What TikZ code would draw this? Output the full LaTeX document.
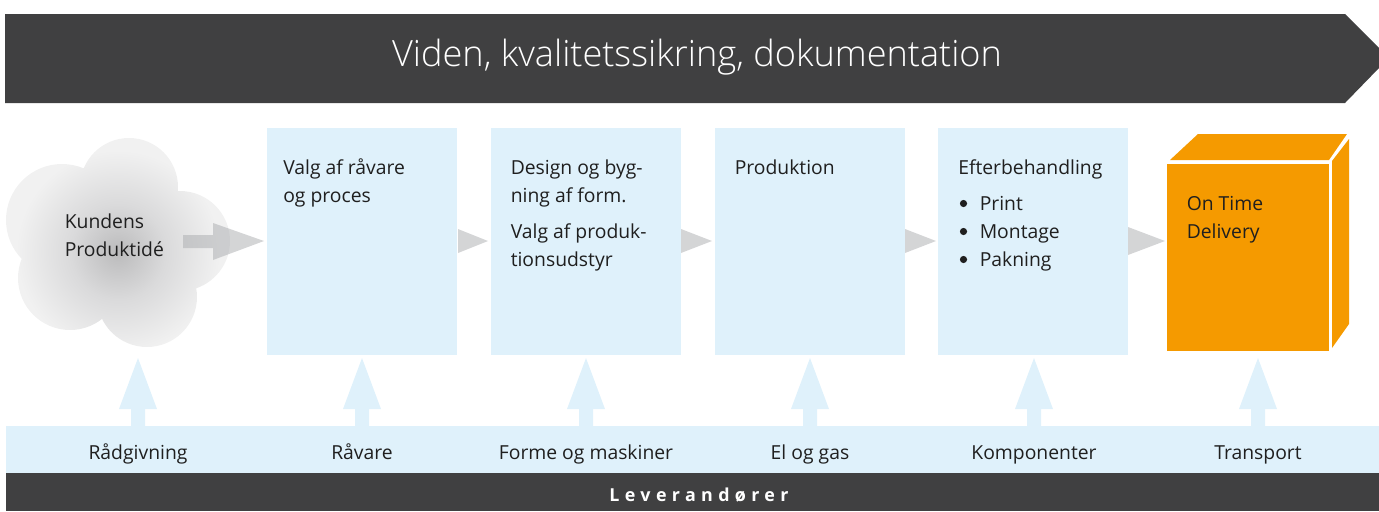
\documentclass[tikz,border=0pt]{standalone}
\usepackage{fontspec}
\setmainfont{Open Sans}
\newfontfamily\lightfont{Open Sans Light}
\definecolor{darkbar}{HTML}{404041}
\definecolor{paleblue}{HTML}{DFF1FB}
\definecolor{boxorange}{HTML}{F59A00}
\definecolor{arrowgray}{HTML}{A9ABAE}
\definecolor{cloudA}{HTML}{BBBBBC}
\definecolor{cloudB}{HTML}{DADADB}
\definecolor{cloudC}{HTML}{F1F1F1}
\pgfdeclareradialshading{cloudshade}{\pgfpoint{0bp}{0bp}}{%
 color(0bp)=(cloudA); color(7bp)=(cloudB); color(15bp)=(cloudC); color(50bp)=(cloudC)}
\tikzset{
 x=0.75pt,y=-0.75pt,
 panel/.style={fill=paleblue,draw=none,inner sep=0pt,anchor=north west,minimum width=142.5pt,minimum height=170.25pt},
 bodytext/.style={anchor=base west,inner sep=0pt,font=\fontsize{14.5}{21}\selectfont,align=left,text=black!88},
 lowlabel/.style={anchor=base,inner sep=0pt,font=\fontsize{14.5}{21}\selectfont,text=black!88},
 grayarrow/.style={fill=arrowgray,opacity=0.5,draw=none},
 feedarrow/.style={fill=paleblue,draw=none},
 orangeface/.style={fill=boxorange,draw=none},
}
\newcommand{\feedup}[1]{\fill[feedarrow] (#1-7,426) -- (#1-7,409) -- (#1-19,409) -- (#1,358) -- (#1+19,409) -- (#1+7,409) -- (#1+7,426) -- cycle;}
\newcommand{\sidetri}[3]{\fill[grayarrow] (#1,241-#3) -- (#2,241) -- (#1,241+#3) -- cycle;}
\begin{document}
\begin{tikzpicture}
\useasboundingbox (0,0) rectangle (1379,511);
% top banner
\fill[darkbar] (5,14) -- (1345,14) -- (1379,48) -- (1379,68) -- (1345,103) -- (5,103) -- cycle;
\node[inner sep=0pt,text=white,anchor=base,font=\fontsize{27.1}{32}\selectfont\lightfont] (title) at (697,66) {Viden, kvalitetssikring, dokumentation};
% cloud
\begin{scope}
 \clip (129,187) circle (49) (62,220) circle (56) (180,241) circle (50)
       (70,278) circle (52) (147,297) circle (50) (120,240) circle (70);
 \shade[shading=cloudshade] (118,252) circle (170);
\end{scope}
\node[bodytext] (cloudtext) at (64.5,256) {Kundens\\Produktidé};
% panels
\node[panel] (p1) at (267,128) {};
\node[panel] (p2) at (491,128) {};
\node[panel] (p3) at (715,128) {};
\node[panel] (p4) at (938,128) {};
% orange box
\fill[orangeface] (1167,163.5) rectangle (1329,351);
\fill[orangeface] (1170,160) -- (1198,134) -- (1347,134) -- (1329,160) -- cycle;
\fill[orangeface] (1332,161) -- (1349,139) -- (1349,324) -- (1332,348) -- cycle;
% gray arrows
\fill[grayarrow] (183,235) -- (213,235) -- (213,223) -- (264,241) -- (213,260) -- (213,248) -- (183,248) -- cycle;
\sidetri{458}{488}{12}
\sidetri{681}{712}{12}
\sidetri{905}{936}{12}
\sidetri{1128}{1165}{14}
% texts
\node[bodytext] (t1) at (283,202) {Valg af råvare\\og proces};
\node[bodytext] (t2a) at (510.5,202) {Design og byg-\\ning af form.};
\node[bodytext] (t2b) at (510.5,266) {Valg af produk-\\tionsudstyr};
\node[bodytext] (t3) at (734.5,174) {Produktion};
\node[bodytext] (t4) at (958,174) {Efterbehandling};
\foreach \yy/\lab/\nm in {210/Print/b1,238/Montage/b2,266/Pakning/b3}{
 \fill[black!88] (963.5,\yy-6.5) circle (3.6);
 \node[bodytext] (\nm) at (979.5,\yy) {\lab};
}
\node[bodytext] (t5) at (1186.5,238) {On Time\\Delivery};
% supplier band
\fill[paleblue] (6,426) rectangle (1379,473);
\fill[darkbar] (6,473) rectangle (1379,511);
\feedup{138}\feedup{362}\feedup{586}\feedup{810}\feedup{1034}\feedup{1258}
\node[lowlabel] (s1) at (138,459) {Rådgivning};
\node[lowlabel] (s2) at (362,459) {Råvare};
\node[lowlabel] (s3) at (586,459) {Forme og maskiner};
\node[lowlabel] (s4) at (810,459) {El og gas};
\node[lowlabel] (s5) at (1034,459) {Komponenter};
\node[lowlabel] (s6) at (1258,459) {Transport};
\node[anchor=base,inner sep=0pt,text=white,font=\fontsize{13.4}{14}\selectfont\bfseries\addfontfeature{LetterSpace=30}] (lev) at (699,501) {Leverandører};
\end{tikzpicture}
\end{document}
